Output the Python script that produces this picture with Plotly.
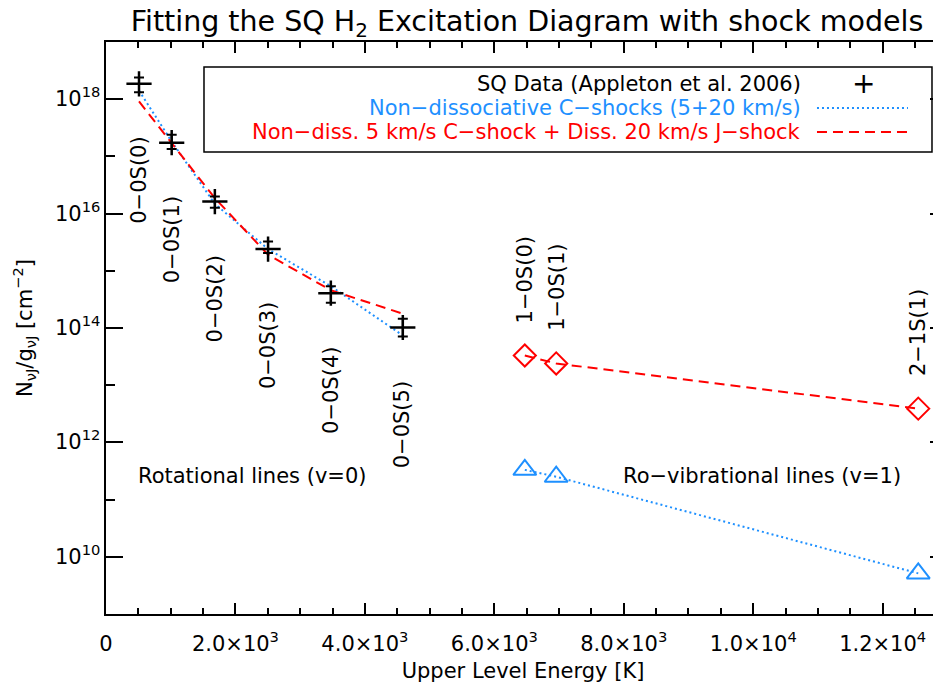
import numpy as np
import plotly.graph_objects as go

# upper level energies [K]
rot_lines = ['0−0S(0)', '0−0S(1)', '0−0S(2)', '0−0S(3)', '0−0S(4)', '0−0S(5)']
rot_energy = [510, 1015, 1682, 2504, 3474, 4586]
vib_lines = ['1−0S(0)', '1−0S(1)', '2−1S(1)']
vib_energy = [6471, 6956, 12550]

# SQ data (Appleton et al. 2006), N/g in cm^-2, with error bar limits
sq_val = [1.86e18, 1.74e17, 1.62e16, 2.40e15, 4.07e14, 1.02e14]
sq_hi = [2.40e18, 2.40e17, 2.00e16, 3.24e15, 5.37e14, 1.45e14]
sq_lo = [1.32e18, 1.35e17, 1.26e16, 2.04e15, 2.75e14, 7.08e13]

# models
c_shock_rot = [1.41e18, 1.82e17, 1.48e16, 2.40e15, 5.37e14, 7.41e13]
cj_shock_rot = [9.12e17, 1.70e17, 1.86e16, 1.91e15, 4.57e14, 1.78e14]
c_shock_vib = [3.31e11, 2.51e11, 5.13e9]
cj_shock_vib = [3.31e13, 2.40e13, 3.89e12]

# axis ticks
x_ticks = [0, 2000, 4000, 6000, 8000, 10000, 12000]
x_ticktext = ['0', '2.0×10<sup>3</sup>', '4.0×10<sup>3</sup>', '6.0×10<sup>3</sup>',
              '8.0×10<sup>3</sup>', '1.0×10<sup>4</sup>', '1.2×10<sup>4</sup>']
y_ticks = [1e10, 1e12, 1e14, 1e16, 1e18]
y_ticktext = ['10<sup>10</sup>', '10<sup>12</sup>', '10<sup>14</sup>', '10<sup>16</sup>', '10<sup>18</sup>']
y_minor = [1e11, 1e13, 1e15, 1e17]

blue = '#1E90FF'
red = '#FF0000'
font = 'DejaVu Sans'
fs = 21

# the page body adds an 8px offset, compensate in the margins
off = 8

sq_val = np.array(sq_val)
err_plus = np.array(sq_hi) - sq_val
err_minus = sq_val - np.array(sq_lo)

fig = go.Figure()

fig.add_trace(go.Scatter(
    x=rot_energy, y=c_shock_rot, mode='lines',
    line=dict(color=blue, width=2, dash='2px,3px'), showlegend=False))
fig.add_trace(go.Scatter(
    x=rot_energy, y=cj_shock_rot, mode='lines',
    line=dict(color=red, width=2, dash='10px,6px'), showlegend=False))
fig.add_trace(go.Scatter(
    x=vib_energy, y=c_shock_vib, mode='lines+markers',
    line=dict(color=blue, width=2, dash='2px,3px'),
    marker=dict(symbol='triangle-up-open', size=20, color=blue, line=dict(width=2)),
    showlegend=False))
fig.add_trace(go.Scatter(
    x=vib_energy, y=cj_shock_vib, mode='lines+markers',
    line=dict(color=red, width=2, dash='10px,6px'),
    marker=dict(symbol='diamond-open', size=17, color=red, line=dict(width=2)),
    showlegend=False))
fig.add_trace(go.Scatter(
    x=rot_energy, y=sq_val, mode='markers',
    marker=dict(symbol='cross-thin-open', size=18, color='black', line=dict(width=2.5, color='black')),
    error_y=dict(type='data', array=err_plus, arrayminus=err_minus,
                 color='black', thickness=2, width=5),
    showlegend=False))

annotations = []
# rotational line labels, below each point
for name, e, v in zip(rot_lines, rot_energy, sq_val):
    annotations.append(dict(x=e, y=np.log10(v) - 0.9, text=name, showarrow=False,
                            textangle=-90, xanchor='center', yanchor='top',
                            font=dict(family=font, size=fs, color='black')))
# ro-vibrational labels, above each point
for name, e, v in zip(vib_lines, vib_energy, cj_shock_vib):
    annotations.append(dict(x=e, y=np.log10(v) + 0.53, text=name, showarrow=False,
                            textangle=-90, xanchor='center', yanchor='bottom',
                            font=dict(family=font, size=fs, color='black')))

annotations.append(dict(x=2271, y=11.41, text='Rotational lines (v=0)', showarrow=False,
                        font=dict(family=font, size=fs, color='black')))
annotations.append(dict(x=10136, y=11.41, text='Ro−vibrational lines (v=1)', showarrow=False,
                        font=dict(family=font, size=fs, color='black')))

# y tick labels, placed close to the axis
for v, t in zip(y_ticks, y_ticktext):
    annotations.append(dict(xref='paper', x=0, y=np.log10(v), text=t, showarrow=False,
                            xanchor='right', yanchor='middle', xshift=-4, yshift=2,
                            font=dict(family=font, size=fs, color='black')))

# legend (text on the left, symbol on the right)
leg_rows = [
    ('SQ Data (Appleton et al. 2006)', 'black', 0.9266),
    ('Non−dissociative C−shocks (5+20 km/s)', blue, 0.8846),
    ('Non−diss. 5 km/s C−shock + Diss. 20 km/s J−shock', red, 0.8427),
]
for txt, col, yy in leg_rows:
    annotations.append(dict(xref='paper', yref='paper', x=0.8355, y=yy, text=txt,
                            showarrow=False, xanchor='right', yanchor='middle',
                            font=dict(family=font, size=fs, color=col)))
annotations.append(dict(xref='paper', yref='paper', x=0.9077, y=0.9266, text='+',
                        showarrow=False, xanchor='center', yanchor='middle',
                        font=dict(family=font, size=28, color='black')))

shapes = [
    dict(type='rect', xref='paper', yref='paper', x0=0.1175, x1=0.9904, y0=0.8077, y1=0.9563,
         line=dict(color='black', width=1.5)),
    dict(type='line', xref='paper', yref='paper', x0=0.8525, x1=0.9616, y0=0.8846, y1=0.8846,
         line=dict(color=blue, width=2, dash='2px,3px')),
    dict(type='line', xref='paper', yref='paper', x0=0.8525, x1=0.9616, y0=0.8427, y1=0.8427,
         line=dict(color=red, width=2, dash='10px,6px')),
]

fig.update_layout(
    width=941, height=684,
    margin=dict(l=106 - off, r=1 + off, t=42 - off, b=70 + off, autoexpand=False),
    plot_bgcolor='white', paper_bgcolor='white',
    font=dict(family=font, size=fs, color='black'),
    title=dict(text='Fitting the SQ H<sub>2</sub> Excitation Diagram with shock models',
               x=(527 - off) / 941, xanchor='center', yref='container', y=1 - (21 - off) / 684,
               yanchor='middle', font=dict(family=font, size=28.5, color='black')),
    annotations=annotations,
    shapes=shapes,
    xaxis=dict(range=[0, 12886], showgrid=False, zeroline=False, showline=True,
               linecolor='black', linewidth=1.5, mirror='ticks', ticks='inside',
               ticklen=11, tickwidth=1.5, tickcolor='black',
               tickvals=x_ticks, ticktext=x_ticktext, ticklabelstandoff=10,
               minor=dict(dtick=500, tick0=0, ticks='inside', ticklen=6, tickwidth=1.5,
                          tickcolor='black', showgrid=False),
               title=dict(text='Upper Level Energy [K]', standoff=8,
                          font=dict(family=font, size=fs))),
    yaxis=dict(type='log', range=[9, 19], showgrid=False, zeroline=False, showline=True,
               linecolor='black', linewidth=1.5, mirror=True, ticks='inside',
               ticklen=17, tickwidth=1.5, tickcolor='black',
               tickvals=y_ticks, showticklabels=False,
               minor=dict(tickvals=y_minor, ticks='inside', ticklen=9, tickwidth=1.5,
                          tickcolor='black', showgrid=False),
               title=dict(text='N<sub>νJ</sub>/g<sub>νJ</sub> [cm<sup>−2</sup>]', standoff=66,
                          font=dict(family=font, size=fs))),
    yaxis2=dict(type='log', range=[9, 19], overlaying='y', side='right', showgrid=False,
                zeroline=False, showline=False, ticks='inside', ticklen=10, tickwidth=1.5,
                tickcolor='black', tickvals=y_ticks, showticklabels=False,
                minor=dict(tickvals=y_minor, ticks='inside', ticklen=4, tickwidth=1.5,
                           tickcolor='black', showgrid=False)),
)

# invisible trace so the right-hand axis ticks are drawn
fig.add_trace(go.Scatter(x=[None], y=[None], yaxis='y2', showlegend=False, hoverinfo='skip'))

fig.write_html('out.html')
